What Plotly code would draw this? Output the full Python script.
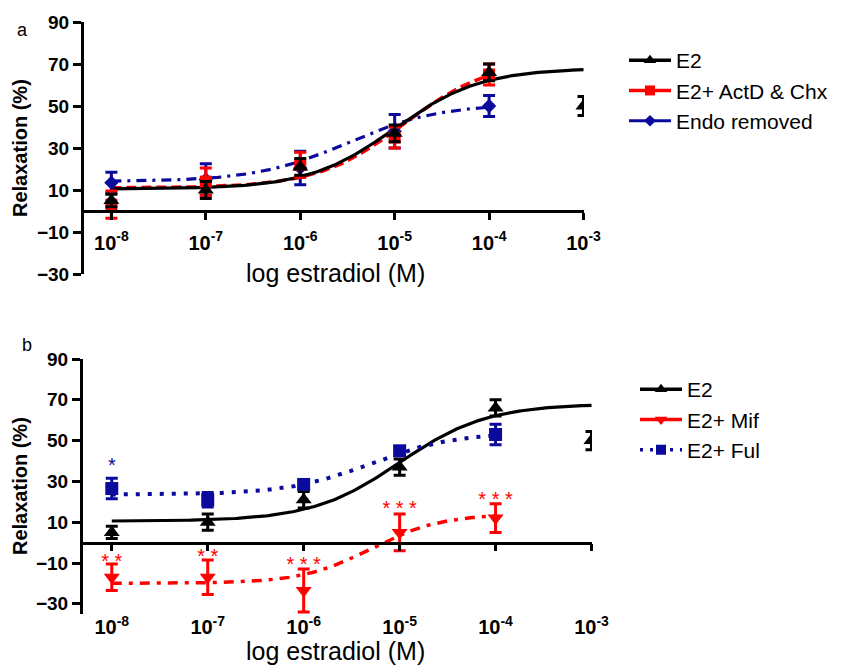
import numpy as np
import plotly.graph_objects as go

# ---------------- data ----------------
conc = [1e-8, 1e-7, 1e-6, 1e-5, 1e-4, 1e-3]
tick_text = ["10<sup>-8</sup>", "10<sup>-7</sup>", "10<sup>-6</sup>",
             "10<sup>-5</sup>", "10<sup>-4</sup>", "10<sup>-3</sup>"]
y_ticks = [-30, -10, 10, 30, 50, 70, 90]

# panel a
e2_mean = [5, 10, 21, 37, 66, 50]
e2_sem = [3, 4, 4, 4, 4, 4.5]
actd_mean = [3, 14, 22, 35, 65]
actd_sem = [6.5, 6.5, 6, 5, 5]
endo_mean = [13.5, 15, 20.5, 38, 50]
endo_sem = [5, 7.5, 8, 8, 5]

# panel b
mif_mean = [-17, -17, -23.5, 5, 12]
mif_sem = [6.5, 8.5, 10.5, 9, 7]
ful_mean = [26.5, 21, 28.5, 45, 53]
ful_sem = [5, 3.5, 2, 2, 5]
mif_stars = ["* *", "* *", "* * *", "* * *", "* * *"]
mif_star_y = [-10, -7.5, -11.5, 16, 20.5]
ful_stars = ["*"]
ful_star_y = [37]

# 4-parameter logistic fits: bottom, top, logEC50, hill
fit_e2 = [10.5, 68, -5.0, 0.95]
fit_actd = [11, 72, -4.9, 0.95]
fit_endo = [14, 51, -5.5, 0.9]
fit_mif = [-20, 14, -5.3, 1.2]
fit_ful = [23.5, 54, -5.3, 1.0]

BLACK = "#000000"
RED = "#ff0000"
BLUE = "#0a0a9c"
FONT = "Liberation Sans, Arial, sans-serif"

W, H = 842, 667


def fit_curve(p, lo, hi):
    lx = np.linspace(lo, hi, 200)
    b, t, ec, h = p
    y = b + (t - b) / (1 + 10 ** ((ec - lx) * h))
    return 10 ** lx, y


fig = go.Figure()


def pts(xa, ya, mean, sem, color, symbol, size, name):
    n = len(mean)
    fig.add_trace(go.Scatter(
        x=conc[:n], y=mean, mode="markers", xaxis=xa, yaxis=ya,
        marker=dict(color=color, symbol=symbol, size=size, line=dict(width=0)),
        error_y=dict(type="data", array=sem, color=color, thickness=3, width=6),
        showlegend=False, hoverinfo="skip"))


def curve(xa, ya, p, hi, color, dash, width=3.2):
    x, y = fit_curve(p, -8, hi)
    fig.add_trace(go.Scatter(x=x, y=y, mode="lines", xaxis=xa, yaxis=ya,
                             line=dict(color=color, width=width, dash=dash),
                             showlegend=False, hoverinfo="skip"))


def leg(xa, ya, name, color, symbol, size, dash, legend, width=3.5):
    fig.add_trace(go.Scatter(x=[None], y=[None], mode="lines+markers", xaxis=xa, yaxis=ya,
                             name=name, legend=legend, legendgroup=legend + name,
                             line=dict(color=color, width=width, dash=dash),
                             marker=dict(color=color, symbol=symbol, size=size)))


# ---- panel a ----
curve("x", "y", fit_endo, -4, BLUE, "10px,6px,3px,6px")
curve("x", "y", fit_actd, -4, RED, "10px,5px", 3.5)
curve("x", "y", fit_e2, -3, BLACK, "solid")
pts("x", "y", endo_mean, endo_sem, BLUE, "diamond", 11, "Endo removed")
pts("x", "y", actd_mean, actd_sem, RED, "square", 12, "E2+ ActD & Chx")
pts("x", "y", e2_mean, e2_sem, BLACK, "triangle-up", 14, "E2")
leg("x", "y", "E2", BLACK, "triangle-up", 11, "solid", "legend")
leg("x", "y", "E2+ ActD & Chx", RED, "square", 10, "solid", "legend")
leg("x", "y", "Endo removed", BLUE, "diamond", 9, "solid", "legend", 3)

# ---- panel b ----
curve("x2", "y2", fit_e2, -3, BLACK, "solid")
curve("x2", "y2", fit_mif, -4, RED, "10px,7px,4px,7px", 3.5)
curve("x2", "y2", fit_ful, -4, BLUE, "4px,8px", 4)
pts("x2", "y2", e2_mean, e2_sem, BLACK, "triangle-up", 14, "E2")
pts("x2", "y2", mif_mean, mif_sem, RED, "triangle-down", 14, "E2+ Mif")
pts("x2", "y2", ful_mean, ful_sem, BLUE, "square", 13, "E2+ Ful")
fig.add_trace(go.Scatter(x=conc[:len(mif_stars)], y=mif_star_y, mode="text", text=mif_stars,
                         xaxis="x2", yaxis="y2", textfont=dict(color=RED, size=20, family=FONT),
                         showlegend=False, hoverinfo="skip"))
fig.add_trace(go.Scatter(x=conc[:len(ful_stars)], y=ful_star_y, mode="text", text=ful_stars,
                         xaxis="x2", yaxis="y2", textfont=dict(color=BLUE, size=20, family=FONT),
                         showlegend=False, hoverinfo="skip"))
leg("x2", "y2", "E2", BLACK, "triangle-up", 11, "solid", "legend2")
leg("x2", "y2", "E2+ Mif", RED, "triangle-down", 11, "solid", "legend2")
leg("x2", "y2", "E2+ Ful", BLUE, "square", 10, "3px,7px", "legend2")

# ---------------- layout ----------------
ya_dom = [1 - 274 / H, 1 - 22 / H]
yb_dom = [1 - 614 / H, 1 - 359 / H]
ya_rng = [-30, 90]
yb_rng = [-35, 90]


def zero_pos(dom, rng):
    return dom[0] + (0 - rng[0]) / (rng[1] - rng[0]) * (dom[1] - dom[0])


axis_common = dict(showgrid=False, zeroline=False, showline=True, linecolor=BLACK,
                   ticks="outside", tickcolor=BLACK, tickwidth=3, automargin=False)
xtickfont = dict(family=FONT, size=20, color=BLACK, weight="bold")
ytickfont = dict(family=FONT, size=19, color=BLACK, weight="bold")
legfont = dict(family=FONT, size=21, color=BLACK)

fig.update_layout(
    width=W, height=H, autosize=False,
    margin=dict(l=0, r=0, t=0, b=0, autoexpand=False),
    paper_bgcolor="white", plot_bgcolor="white",
    font=dict(family=FONT, color=BLACK),
    xaxis=dict(axis_common, type="log", range=[-8.29, -2.995], domain=[84 / W, 584 / W],
               anchor="free", position=zero_pos(ya_dom, ya_rng),
               tickvals=conc, ticktext=tick_text, ticklen=7, linewidth=2.5,
               tickfont=xtickfont, ticklabelstandoff=6),
    yaxis=dict(axis_common, range=ya_rng, domain=ya_dom, anchor="x",
               tickvals=y_ticks, ticklen=8, linewidth=3, tickfont=ytickfont),
    xaxis2=dict(axis_common, type="log", range=[-8.30, -2.995], domain=[83 / W, 592 / W],
                anchor="free", position=zero_pos(yb_dom, yb_rng),
                tickvals=conc, ticktext=tick_text, ticklen=7, linewidth=2.5,
                tickfont=xtickfont, ticklabelstandoff=59),
    yaxis2=dict(axis_common, range=yb_rng, domain=yb_dom, anchor="x2",
                tickvals=y_ticks, ticklen=8, linewidth=3, tickfont=ytickfont),
    legend=dict(x=624 / W, y=1 - 40 / H, xanchor="left", yanchor="top",
                font=legfont, itemwidth=42,
                tracegroupgap=0, bgcolor="rgba(0,0,0,0)"),
    legend2=dict(x=635 / W, y=1 - 369 / H, xanchor="left", yanchor="top",
                 font=legfont, itemwidth=42,
                 tracegroupgap=0, bgcolor="rgba(0,0,0,0)"),
)

ann = []
ann.append(dict(text="a", x=22 / W, y=1 - 30 / H, font=dict(size=18)))
ann.append(dict(text="b", x=27 / W, y=1 - 345 / H, font=dict(size=18)))
ann.append(dict(text="log estradiol (M)", x=335 / W, y=1 - 273 / H, font=dict(size=25)))
ann.append(dict(text="log estradiol (M)", x=335 / W, y=1 - 651 / H, font=dict(size=25)))
ann.append(dict(text="<b>Relaxation (%)</b>", x=20 / W, y=1 - 148 / H, textangle=-90, font=dict(size=20)))
ann.append(dict(text="<b>Relaxation (%)</b>", x=20 / W, y=1 - 486 / H, textangle=-90, font=dict(size=20)))
for a in ann:
    a.update(xref="paper", yref="paper", showarrow=False, xanchor="center", yanchor="middle")
    a["font"].update(family=FONT, color=BLACK)
fig.update_layout(annotations=ann)

fig.write_html("out.html")
